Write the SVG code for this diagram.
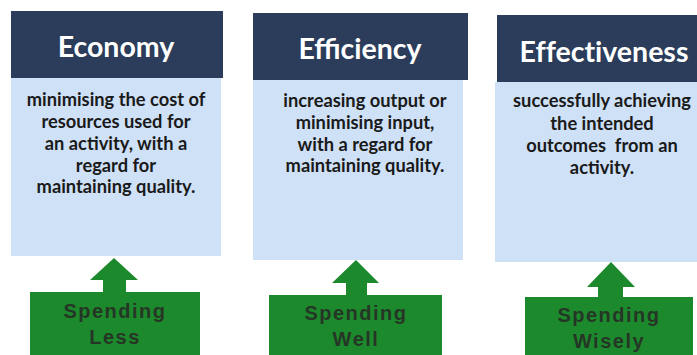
<svg xmlns="http://www.w3.org/2000/svg" width="697" height="355" viewBox="0 0 697 355">
<style>
.hdr{fill:#2b3d5a}
.body{fill:#cfe1f6}
.grn{fill:#1c8a2c}
.ttl{font-family:Lato,"Open Sans",sans-serif;font-weight:700;font-size:28.5px;fill:#ffffff;text-anchor:middle}
.txt{font-family:Lato,"Open Sans",sans-serif;font-weight:700;font-size:18.3px;fill:#1a1a1a;text-anchor:middle}
.gt{font-family:"Liberation Sans",Arial,sans-serif;font-weight:700;font-size:20px;letter-spacing:1.5px;fill:#263626;text-anchor:middle}
</style>
<rect width="697" height="355" fill="#ffffff"/>
<g id="economy">
<rect class="body" x="11" y="78" width="210" height="178"/>
<rect class="hdr" x="11" y="11" width="212" height="67"/>
<text class="ttl" x="116" y="57">Economy</text>
<text class="txt"><tspan x="116" y="106">minimising the cost of</tspan><tspan x="116" y="128">resources used for</tspan><tspan x="116" y="150">an activity, with a</tspan><tspan x="116" y="172">regard for</tspan><tspan x="116" y="193">maintaining quality.</tspan></text>
</g>
<g id="efficiency">
<rect class="body" x="253" y="80" width="210" height="180"/>
<rect class="hdr" x="253" y="13" width="215" height="67"/>
<text class="ttl" x="360" y="59">Efficiency</text>
<text class="txt"><tspan x="365" y="107">increasing output or</tspan><tspan x="365" y="129">minimising input,</tspan><tspan x="365" y="151">with a regard for</tspan><tspan x="365" y="172">maintaining quality.</tspan></text>
</g>
<g id="effectiveness">
<rect class="body" x="495" y="82" width="202" height="180"/>
<rect class="hdr" x="497" y="15" width="200" height="67"/>
<text class="ttl" x="604" y="62" style="font-variant-ligatures:none">Effectiveness</text>
<text class="txt" xml:space="preserve"><tspan x="602" y="107">successfully achieving</tspan><tspan x="602" y="130">the intended</tspan><tspan x="602" y="152">outcomes  from an</tspan><tspan x="602" y="174">activity.</tspan></text>
</g>
<g id="connectors">
<polygon class="grn" points="114,258 138,280 126,280 126,293 103,293 103,280 90,280"/>
<polygon class="grn" points="356,260 379,283 367,283 367,296 346,296 346,283 332,283"/>
<polygon class="grn" points="611,262 635,287 623,287 623,298 598,298 598,287 587,287"/>
</g>
<g id="spending-less">
<rect class="grn" x="30" y="292" width="170" height="70"/>
<text class="gt"><tspan x="115" y="318">Spending</tspan><tspan x="115" y="344">Less</tspan></text>
</g>
<g id="spending-well">
<rect class="grn" x="269" y="295" width="173" height="70"/>
<text class="gt"><tspan x="356" y="320">Spending</tspan><tspan x="356" y="346">Well</tspan></text>
</g>
<g id="spending-wisely">
<rect class="grn" x="525" y="297" width="168" height="70"/>
<text class="gt"><tspan x="609" y="322">Spending</tspan><tspan x="609" y="348">Wisely</tspan></text>
</g>
</svg>
